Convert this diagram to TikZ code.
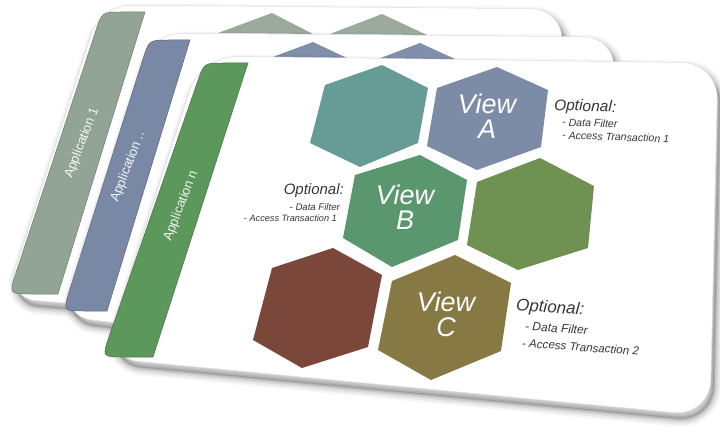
\documentclass[tikz,border=0pt]{standalone}
\usepackage{fontspec}
\setmainfont{Liberation Sans}
\usetikzlibrary{calc}
\definecolor{hteal}{RGB}{102,156,149}
\definecolor{hblue}{RGB}{124,139,166}
\definecolor{hgreen}{RGB}{90,150,110}
\definecolor{holive}{RGB}{111,145,81}
\definecolor{hred}{RGB}{123,71,59}
\definecolor{hbrown}{RGB}{134,121,67}
\definecolor{appgray}{RGB}{145,164,149}
\definecolor{appblue}{RGB}{121,137,165}
\definecolor{appgreen}{RGB}{92,151,92}
\definecolor{trigray}{RGB}{155,170,157}
\definecolor{triblue}{RGB}{128,143,170}
\definecolor{txtgray}{RGB}{55,55,55}
\newcommand\mkslide[2]{%
  \foreach \sw/\so in {16/0.035,12/0.05,8/0.06,5/0.08,2/0.11}{%
    \draw[black,opacity=\so,line width=\sw pt,rounded corners=#2,shift={(3,6)},#1];}
  \fill[black,opacity=0.12,rounded corners=#2,shift={(3,6)},#1];
  \fill[white,rounded corners=#2,#1];
  \draw[black!12,line width=0.5pt,rounded corners=#2,#1];
}
\newcommand\mkbar[5]{%
  \filldraw[fill=#5,draw=#5!75!black,line width=0.5pt]
    (#1) -- ($(#2)!20pt!(#1)$) .. controls (#2) .. ($(#2)!20pt!(#3)$)
    -- ($(#3)!22pt!(#2)$) .. controls (#3) .. ($(#3)!22pt!(#4)$) -- (#4) -- cycle;
}
\begin{document}
\begin{tikzpicture}[x=1pt,y=-1pt,
  slideone/.style={insert path={(101,5) -- (562,9) -- (560,345) -- (6,298) -- cycle}},
  slidetwo/.style={insert path={(152,33) -- (614,37) -- (612,385) -- (61,316) -- cycle}},
  slidethree/.style={insert path={(201,56) -- (718,63) -- (710,416) -- (103,358) -- cycle}},
  viewtxt/.style={font=\fontsize{27}{25}\selectfont\itshape, text=white, align=center, inner sep=0pt},
  apptxt/.style={font=\fontsize{13}{13}\selectfont, text=white, text opacity=0.9, inner sep=0pt, rotate=69},
  opthead/.style={font=\itshape, text=txtgray, inner sep=0pt},
  optitem/.style={font=\itshape, text=txtgray, inner sep=0pt}
]
\useasboundingbox (0,0) rectangle (720,441);
\fill[white] (0,0) rectangle (720,441);

% back slide
\mkslide{slideone}{30pt}
\mkbar{145,12}{102,12}{9,294}{58,294}{appgray}
\node[apptxt] (app1) at (82,143) {Application 1};
\fill[trigray] (218,33) -- (272,13) -- (313,34) -- cycle;
\fill[trigray] (330,34) -- (382,14) -- (427,35) -- cycle;

% middle slide
\mkslide{slidetwo}{30pt}
\mkbar{190,40}{149,40}{63,311}{107,311}{appblue}
\node[apptxt] (app2) at (128,167) {Application ..};
\fill[triblue] (270,58) -- (313,42) -- (347,58) -- cycle;
\fill[triblue] (378,59) -- (420,43) -- (455,59) -- cycle;

% front slide
\mkslide{slidethree}{36pt}
\mkbar{248,63}{204,63}{102,357}{153,357}{appgreen}
\node[apptxt] (app3) at (181,206) {Application n};

% hexagons
\fill[hteal] (382,65) -- (428,88) -- (418,143) -- (360,167) -- (310,143) -- (325,85) -- cycle;
\fill[hblue] (497,67) -- (548,90) -- (541,147) -- (477,170) -- (427,146) -- (437,88) -- cycle;
\fill[hgreen] (420,155) -- (467,180) -- (458,240) -- (392,267) -- (343,238) -- (355,175) -- cycle;
\fill[holive] (540,158) -- (594,186) -- (588,248) -- (518,270) -- (467,245) -- (477,182) -- cycle;
\fill[hred] (333,248) -- (382,275) -- (368,347) -- (302,368) -- (253,340) -- (272,268) -- cycle;
\fill[hbrown] (455,255) -- (511,283) -- (501,351) -- (431,380) -- (378,350) -- (392,281) -- cycle;

\node[viewtxt] (vA) at (487,116) {View\\A};
\node[viewtxt] (vB) at (405,207) {View\\B};
\node[viewtxt] (vC) at (446,314) {View\\C};

% optional texts
\node[opthead, anchor=west, rotate=-2, font=\fontsize{15.5}{15.5}\selectfont\itshape] (oA) at (554,106) {Optional:};
\node[optitem, anchor=west, rotate=-2, font=\fontsize{10.6}{10.6}\selectfont\itshape] (oA1) at (562,122) {- Data Filter};
\node[optitem, anchor=west, rotate=-2, font=\fontsize{10.6}{10.6}\selectfont\itshape] (oA2) at (562,135) {- Access Transaction 1};

\node[opthead, anchor=east, font=\fontsize{15}{15}\selectfont\itshape] (oB) at (344,191) {Optional:};
\node[optitem, anchor=east, font=\fontsize{9.6}{9.6}\selectfont\itshape] (oB1) at (340,207) {- Data Filter};
\node[optitem, anchor=east, font=\fontsize{9.2}{9.2}\selectfont\itshape] (oB2) at (337,218) {- Access Transaction 1};

\node[opthead, anchor=west, rotate=-4, font=\fontsize{17}{17}\selectfont\itshape] (oC) at (516,306) {Optional:};
\node[optitem, anchor=west, rotate=-4, font=\fontsize{12}{12}\selectfont\itshape] (oC1) at (525,326) {- Data Filter};
\node[optitem, anchor=west, rotate=-4, font=\fontsize{11.6}{11.6}\selectfont\itshape] (oC2) at (522,343) {- Access Transaction 2};
\end{tikzpicture}
\end{document}
